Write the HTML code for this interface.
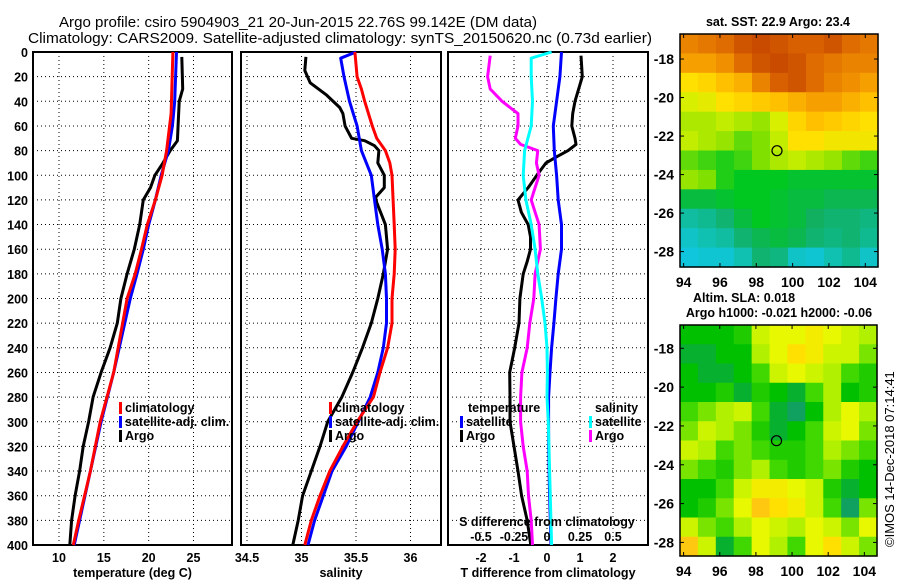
<!DOCTYPE html>
<html><head><meta charset="utf-8">
<style>
html,body{margin:0;padding:0;background:#fff;}
svg{display:block;font-family:"Liberation Sans",Arial,sans-serif;}
.t{font-size:12.5px;font-weight:bold;fill:#000;}
.tt{font-size:15px;fill:#000;}
</style></head>
<body>
<svg id="chart" width="900" height="580" viewBox="0 0 900 580" xmlns="http://www.w3.org/2000/svg">
<rect x="0" y="0" width="900" height="580" fill="#fff"/>
<text class="tt" x="59" y="27" textLength="478" lengthAdjust="spacingAndGlyphs">Argo profile: csiro 5904903_21 20-Jun-2015 22.76S 99.142E (DM data)</text>
<text class="tt" x="28" y="43" textLength="624" lengthAdjust="spacingAndGlyphs">Climatology: CARS2009. Satellite-adjusted climatology: synTS_20150620.nc (0.73d earlier)</text>
<g id="g"></g>
</svg>
<script>
// ---------- data ----------
var depthTicks=[0,20,40,60,80,100,120,140,160,180,200,220,240,260,280,300,320,340,360,380,400];
var tTicks=[10,15,20,25];
var sTicks=[34.5,35,35.5,36];
var dTTicks=[-2,-1,0,1,2];
var dSTickLabels=["-0.5","-0.25","0","0.25","0.5"];
var dSTicks=[-0.5,-0.25,0,0.25,0.5];

var tClimDepth=[0,50,80,100,120,140,160,180,200,260,300,340,380,400];
var tClim=[22.7,22.5,22.0,21.5,20.75,19.85,19.2,18.5,17.6,16.1,14.6,13.5,12.2,11.6];
var tSatDepth=[0,40,60,80,100,120,140,160,180,200,260,300,340,400];
var tSat=[23.1,22.9,22.65,22.2,21.4,20.75,20.0,19.4,18.7,17.95,16.1,14.7,13.5,11.7];
var tArgoDepth=[4,30,40,72,80,90,100,110,120,140,160,180,200,220,240,260,280,300,320,340,360,380,400];
var tArgo=[23.7,23.8,23.4,23.2,22.4,21.6,20.7,20.2,19.4,19.0,18.4,17.6,16.9,16.5,15.7,14.7,13.8,13.3,12.7,12.3,11.8,11.4,11.2];

var sClimDepth=[0,10,20,30,40,60,70,80,90,100,120,140,160,180,200,220,240,260,280,300,320,340,360,380,400];
var sClim=[35.49,35.5,35.51,35.55,35.58,35.65,35.69,35.77,35.81,35.83,35.84,35.85,35.86,35.85,35.83,35.83,35.79,35.72,35.66,35.51,35.38,35.26,35.17,35.09,35.03];
var sSatDepth=[0,5,20,40,60,80,100,120,140,160,180,200,220,240,260,280,300,320,340,360,380,400];
var sSat=[35.5,35.36,35.39,35.44,35.51,35.55,35.64,35.67,35.70,35.74,35.77,35.78,35.78,35.75,35.70,35.63,35.52,35.41,35.28,35.20,35.12,35.06];
var sArgoDepth=[4,15,25,35,45,50,60,70,72,76,80,90,100,110,118,122,140,160,180,200,220,240,260,280,300,320,340,360,380,400];
var sArgo=[35.04,35.03,35.08,35.23,35.35,35.38,35.40,35.46,35.58,35.67,35.71,35.70,35.76,35.76,35.68,35.69,35.77,35.79,35.75,35.70,35.64,35.56,35.47,35.37,35.24,35.17,35.09,35.01,34.97,34.92];

var dTSatDepth=[0,20,40,60,80,100,120,140,160,180,200,220,240,260,280,320,360,400];
var dTSat=[0.44,0.39,0.29,0.19,0.22,0.29,0.34,0.44,0.44,0.34,0.27,0.21,0.14,0.09,0.05,0.05,0.08,0.12];
var dTArgoDepth=[3,20,40,50,60,70,75,80,85,90,100,110,120,130,140,150,160,170,180,200,220,240,260,280,300,320,340,360,380,400];
var dTArgo=[1.03,1.07,0.85,0.78,0.75,0.85,0.88,0.64,0.29,-0.03,-0.31,-0.57,-0.88,-0.78,-0.57,-0.5,-0.5,-0.6,-0.72,-0.82,-0.85,-0.98,-1.13,-1.12,-1.12,-1.0,-0.88,-0.77,-0.6,-0.49];
var dSSatDepth=[0,5,20,40,60,80,100,120,140,160,180,200,220,240,260,280,300,340,400];
var dSSat=[0.035,-0.12,-0.12,-0.11,-0.12,-0.17,-0.18,-0.16,-0.12,-0.09,-0.07,-0.04,-0.015,0,0.003,0,0.01,0.02,0.035];
var dSArgoDepth=[3,20,30,40,45,50,60,70,75,80,90,100,110,120,130,140,160,180,200,220,240,260,280,300,320,340,360,380,400];
var dSArgo=[-0.43,-0.45,-0.43,-0.34,-0.28,-0.22,-0.22,-0.24,-0.2,-0.07,-0.08,-0.06,-0.09,-0.12,-0.09,-0.06,-0.05,-0.09,-0.1,-0.13,-0.15,-0.19,-0.2,-0.2,-0.18,-0.15,-0.14,-0.12,-0.11];

var mapLonTicks=[94,96,98,100,102,104];
var mapLatTicks=[-18,-20,-22,-24,-26,-28];
var argoLon=99.14, argoLat=-22.76;
var sstGrid=[
[24.2,24.3,24.4,24.6,24.7,24.6,24.5,24.5,24.6,24.4,24.3],
[24.0,24.0,24.1,24.4,24.6,24.7,24.6,24.4,24.3,24.2,24.2],
[23.5,23.6,23.8,23.9,24.2,24.5,24.6,24.4,24.2,24.1,24.0],
[23.2,23.3,23.5,23.6,23.7,23.8,23.9,24.0,24.0,23.9,23.8],
[23.0,23.0,23.1,23.0,22.9,23.2,23.6,23.8,23.7,23.6,23.5],
[23.1,23.0,22.9,22.7,22.8,23.1,23.5,23.5,23.4,23.4,23.4],
[22.7,22.6,22.5,22.6,22.8,23.0,23.1,23.0,22.9,22.7,22.6],
[22.9,22.8,22.5,22.4,22.4,22.4,22.3,22.3,22.3,22.3,22.3],
[22.2,22.2,22.3,22.4,22.4,22.3,22.2,22.2,22.1,22.1,22.1],
[21.6,21.7,21.9,22.2,22.4,22.3,22.2,22.0,21.9,21.9,21.8],
[21.3,21.5,21.6,21.9,22.1,22.2,22.1,21.9,21.8,21.9,21.7],
[21.1,21.2,21.2,21.5,21.9,21.8,21.3,21.2,21.5,21.7,21.3]];
var slaGrid=[
[0,0,0,0.01,0.05,0.06,0.06,0.07,0.06,0.05,0.04],
[-0.01,-0.01,0,0,0.04,0.06,0.08,0.07,0.05,0.05,0.03],
[0,-0.01,-0.01,0,0.02,0.05,0.06,0.05,0.04,0.02,0.01],
[0,0,0.01,-0.01,0.01,0,-0.01,0.02,0.04,0,0.01],
[0.02,0.03,0.04,0.05,0.02,-0.01,-0.02,0,0.04,0.06,0.04],
[0.03,0.05,0.04,0.03,0.01,-0.01,0,0.02,0.05,0.06,0.03],
[0.05,0.04,0.02,0.03,0.02,0.01,0.01,0.02,0.04,0.03,0.02],
[0.03,0.02,0.01,0.03,0.04,0.02,0.01,0.02,0.03,0.01,0],
[0,0,0.02,0.05,0.07,0.07,0.06,0.05,0.01,-0.01,0],
[0,0.01,0.03,0.06,0.09,0.08,0.07,0.05,0.02,-0.02,0.03],
[0.05,0.03,0.02,0.04,0.06,0.05,0.04,0.06,0.05,0.03,0.06],
[0.09,0.05,-0.01,0.02,0.06,0.04,0.02,0.06,0.08,0.05,0.03]];

// ---------- helpers ----------
var NS="http://www.w3.org/2000/svg";
var G=document.getElementById('g');
function mk(tag,attrs,parent){var e=document.createElementNS(NS,tag);for(var k in attrs)e.setAttribute(k,attrs[k]);(parent||G).appendChild(e);return e;}
var PT=52,PB=545;
function yD(d){return PT+(PB-PT)*d/400;}
function lin(v0,x0,v1,x1){return function(v){return x0+(v-v0)*(x1-x0)/(v1-v0);};}
var xT=lin(10,59,25,193.5);
var xS=lin(34.5,247,36,410.5);
var xDT=lin(0,547,1,580);
var xDS=lin(0,547,0.25,580);
var panels=[{x0:33,x1:232,ticks:tTicks,fx:xT,lab:["10","15","20","25"],title:"temperature (deg C)",name:"temperature"},
{x0:241,x1:441,ticks:sTicks,fx:xS,lab:["34.5","35","35.5","36"],title:"salinity",name:"salinity"},
{x0:448,x1:648,ticks:dTTicks,fx:xDT,lab:["-2","-1","0","1","2"],title:"T difference from climatology",name:"difference"}];

panels.forEach(function(p){
  var gg=mk('g',{});
  
  
  depthTicks.forEach(function(d){
    var l=mk('line',{x1:p.x0,x2:p.x1,y1:yD(d),y2:yD(d),stroke:'#000','stroke-width':1,'stroke-dasharray':'1,3'},gg);
    
    
  });
  p.ticks.forEach(function(v,i){
    var x=p.fx(v);
    var l=mk('line',{x1:x,x2:x,y1:PT,y2:PB,stroke:'#000','stroke-width':1,'stroke-dasharray':'1,3'},gg);
    
    
    var t=mk('text',{x:x,y:562,'text-anchor':'middle','class':'t'},gg);t.textContent=p.lab[i];
    
    
  });
  var r=mk('rect',{x:p.x0,y:PT,width:p.x1-p.x0,height:PB-PT,fill:'none',stroke:'#000','stroke-width':2},gg);
  
  
  var tt=mk('text',{x:(p.x0+p.x1)/2,y:577,'text-anchor':'middle','class':'t'},gg);tt.textContent=p.title;
  
  
});
depthTicks.forEach(function(d){
  var t=mk('text',{x:28,y:yD(d)+5,'text-anchor':'end','class':'t'});t.textContent=String(d);
  
  
});

function series(depths,vals,fx,color,name){
  var pts=depths.map(function(d,i){return fx(vals[i]).toFixed(1)+','+yD(d).toFixed(1);}).join(' ');
  var l=mk('polyline',{points:pts,fill:'none',stroke:color,'stroke-width':3,'stroke-linejoin':'round'});
  
  
}
series(tArgoDepth,tArgo,xT,'#000','temp-argo-line');
series(tSatDepth,tSat,xT,'#0000ff','temp-satellite-line');
series(tClimDepth,tClim,xT,'#ff0000','temp-climatology-line');
series(sArgoDepth,sArgo,xS,'#000','salinity-argo-line');
series(sSatDepth,sSat,xS,'#0000ff','salinity-satellite-line');
series(sClimDepth,sClim,xS,'#ff0000','salinity-climatology-line');
series(dTArgoDepth,dTArgo,xDT,'#000','tdiff-argo-line');
series(dSArgoDepth,dSArgo,xDS,'#ff00ff','sdiff-argo-line');
series(dTSatDepth,dTSat,xDT,'#0000ff','tdiff-satellite-line');
series(dSSatDepth,dSSat,xDS,'#00ffff','sdiff-satellite-line');

function legendEntry(x,y,color,label){
  var g=mk('g',{});
  
  
  mk('rect',{x:x,y:y-10,width:3,height:12,fill:color},g);
  var t=mk('text',{x:x+6,y:y,'class':'t'},g);t.textContent=label;
}
legendEntry(119,412,'#ff0000','climatology');
legendEntry(119,426,'#0000ff','satellite-adj. clim.');
legendEntry(119,440,'#000','Argo');
legendEntry(329,412,'#ff0000','climatology');
legendEntry(329,426,'#0000ff','satellite-adj. clim.');
legendEntry(329,440,'#000','Argo');
var lt=mk('text',{x:468,y:412,'class':'t'});lt.textContent='temperature';


legendEntry(460,426,'#0000ff','satellite');
legendEntry(460,440,'#000','Argo');
var ls=mk('text',{x:595,y:412,'class':'t'});ls.textContent='salinity';


legendEntry(589,426,'#00ffff','satellite');
legendEntry(589,440,'#ff00ff','Argo');

var st=mk('text',{x:547,y:526,'text-anchor':'middle','class':'t'});st.textContent='S difference from climatology';


dSTicks.forEach(function(v,i){
  var t=mk('text',{x:xDS(v),y:541,'text-anchor':'middle','class':'t'});t.textContent=dSTickLabels[i];
  
  
});

// ---------- maps ----------
function sstColor(v){
  var s=[[21.0,[16,200,232]],[21.5,[16,192,176]],[22.0,[16,176,96]],[22.4,[0,200,32]],[22.8,[128,224,0]],[23.2,[216,240,0]],[23.5,[255,224,0]],[23.8,[255,192,0]],[24.1,[240,144,0]],[24.5,[216,96,0]],[24.8,[192,64,0]]];
  return ramp(s,v);
}
function slaColor(v){
  var s=[[-0.02,[16,160,96]],[0,[0,192,0]],[0.02,[64,216,0]],[0.04,[176,240,0]],[0.06,[232,248,0]],[0.08,[255,224,0]],[0.10,[255,176,32]]];
  return ramp(s,v);
}
function ramp(s,v){
  if(v<=s[0][0])return 'rgb('+s[0][1].join(',')+')';
  for(var i=1;i<s.length;i++){if(v<=s[i][0]){var f=(v-s[i-1][0])/(s[i][0]-s[i-1][0]);var c=s[i-1][1].map(function(a,k){return Math.round(a+(s[i][1][k]-a)*f);});return 'rgb('+c.join(',')+')';}}
  return 'rgb('+s[s.length-1][1].join(',')+')';
}
function drawMap(grid,colorFn,x0,x1,y0,y1,lonA,lonB,latTop,latBot,name){
  var gg=mk('g',{});
  
  
  var fx=lin(lonA,x0,lonB,x1), fy=lin(latTop,y0,latBot,y1);
  var nr=grid.length,nc=grid[0].length;
  var cw=(x1-x0)/nc,ch=(y1-y0)/nr;
  grid.forEach(function(row,r){row.forEach(function(v,c){
    var cell=mk('rect',{x:(x0+c*cw).toFixed(2),y:(y0+r*ch).toFixed(2),width:(cw+0.6).toFixed(2),height:(ch+0.6).toFixed(2),fill:colorFn(v)},gg);
    
    
  });});
  var fr=mk('rect',{x:x0,y:y0,width:x1-x0,height:y1-y0,fill:'none',stroke:'#000','stroke-width':1.5},gg);
  
  
  mapLonTicks.forEach(function(lo){
    var x=fx(lo);
    mk('line',{x1:x,x2:x,y1:y1,y2:y1-4,stroke:'#000'},gg);
    mk('line',{x1:x,x2:x,y1:y0,y2:y0+4,stroke:'#000'},gg);
    var t=mk('text',{x:x,y:y1+20,'text-anchor':'middle','class':'t',style:'font-size:14px'},gg);t.textContent=String(lo);
    
    
  });
  mapLatTicks.forEach(function(la){
    var y=fy(la);
    mk('line',{x1:x0,x2:x0+4,y1:y,y2:y,stroke:'#000'},gg);
    mk('line',{x1:x1,x2:x1-4,y1:y,y2:y,stroke:'#000'},gg);
    var t=mk('text',{x:x0-6,y:y+5,'text-anchor':'end','class':'t',style:'font-size:14px'},gg);t.textContent=String(la);
    
    
  });
  var c=mk('circle',{cx:fx(argoLon),cy:fy(argoLat),r:5,fill:'none',stroke:'#000','stroke-width':1.2},gg);
  
  
}
drawMap(sstGrid,sstColor,680,878,34,267,93.8,104.7,-16.7,-28.8,'sst-map');
drawMap(slaGrid,slaColor,680,877,325,556,93.8,104.7,-16.8,-28.7,'sla-map');

function txt(x,y,s,name){var t=mk('text',{x:x,y:y,'text-anchor':'middle','class':'t'});t.textContent=s;
  
  return t;}
txt(778,26,'sat. SST: 22.9 Argo: 23.4','sst-map-title');
txt(744,302,'Altim. SLA: 0.018','sla-map-title');
txt(779,317,'Argo h1000: -0.021 h2000: -0.06','argo-height-title');
var im=mk('text',{x:0,y:0,'class':'t',transform:'translate(894,547) rotate(-90)',style:'font-weight:normal;font-size:13px'});
im.textContent='©IMOS 14-Dec-2018 07:14:41';


</script>
</body></html>
